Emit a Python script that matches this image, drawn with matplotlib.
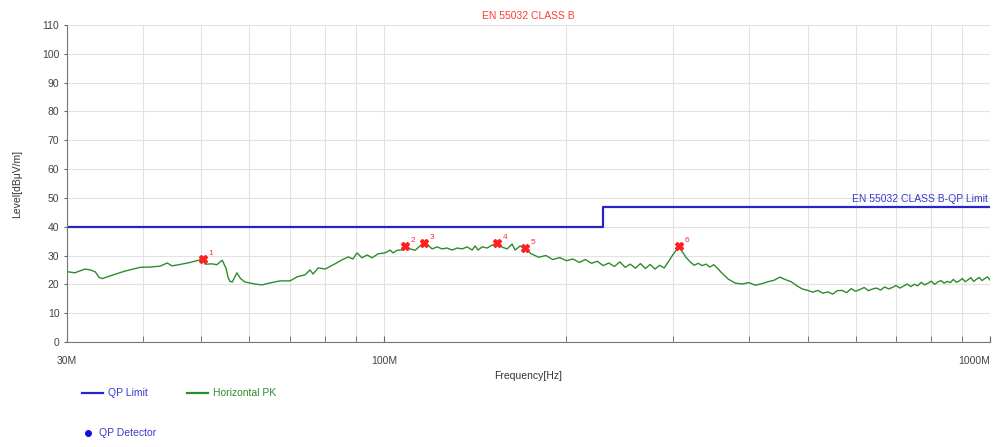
import matplotlib
matplotlib.use("Agg")
import matplotlib.pyplot as plt
from matplotlib.lines import Line2D
from matplotlib.ticker import FixedLocator, NullFormatter

plt.rcParams['font.family'] = ['Liberation Sans Narrow', 'Liberation Sans', 'DejaVu Sans']

# Measured peak trace (frequency in MHz, level in dBuV/m)
freq_mhz = [
    30.0, 30.9, 32.1, 32.8, 33.4, 33.9, 34.3, 35.3, 37.4, 39.6, 41.1, 42.7, 43.9, 44.7,
    46.1, 47.9, 49.7, 50.3, 50.7, 52.1, 53.0, 54.1, 54.9, 55.3, 55.7, 56.2, 57.2, 58.0,
    59.0, 61.3, 62.9, 64.9, 67.4, 70.0, 71.9, 74.1, 75.5, 76.4, 77.9, 80.0, 83.0, 85.3,
    87.3, 88.9, 90.3, 92.0, 93.8, 95.6, 97.8, 100.4, 102.4, 103.5, 105.1, 107.5, 108.4,
    110.4, 112.6, 114.7, 116.5, 118.3, 120.1, 122.4, 124.7, 127.1, 129.6, 132.1, 134.6,
    137.2, 139.8, 141.4, 143.0, 145.2, 148.0, 150.8, 153.7, 156.7, 159.7, 162.7, 164.6,
    167.7, 170.9,
    175, 180, 185, 190, 195, 200, 205, 210, 215, 220, 225, 230, 235, 240, 245, 250, 255,
    260, 265, 270, 275, 280, 285, 290, 295, 300, 305, 307, 310, 315, 320, 325, 330, 335,
    340, 345, 350, 355, 360,
    370, 380, 390, 400, 410, 420, 430, 440, 450, 460, 470, 480, 490, 500, 510, 520, 530,
    540, 550, 560, 570, 580, 590, 600, 610, 620, 630, 640, 650, 660, 670, 680, 690, 700,
    710, 720, 730, 740, 750, 760, 770, 780, 790, 800, 810, 820, 830, 840, 850, 860, 870,
    880, 890, 900, 910, 920, 930, 940, 950, 960, 970, 980, 990, 1000,
]
level_db = [
    24.4, 24.0, 25.3, 25.0, 24.3, 22.4, 22.0, 22.9, 24.6, 25.9, 26.0, 26.3, 27.4, 26.4,
    26.9, 27.6, 28.5, 28.9, 27.0, 27.1, 26.8, 28.4, 25.5, 22.5, 21.0, 20.8, 24.0, 22.0,
    20.8, 20.1, 19.8, 20.5, 21.2, 21.2, 22.6, 23.3, 25.0, 23.6, 25.7, 25.3, 27.1, 28.5,
    29.5, 28.8, 30.9, 29.2, 30.2, 29.2, 30.6, 30.9, 31.9, 30.9, 31.8, 32.0, 32.8,
    32.3, 31.8, 33.3, 34.0, 33.5, 32.3, 33.0, 32.3, 32.6, 31.9, 32.6, 32.3,
    33.0, 31.9, 33.3, 31.9, 33.0, 32.6, 33.6, 34.2, 32.9, 32.3, 34.0, 31.9,
    33.3, 32.4,
    30.6, 29.4, 30.0, 28.6, 29.3, 28.2, 28.8, 27.6, 28.6, 27.3, 28.0, 26.5, 27.4, 26.2,
    27.8, 25.9, 27.0, 25.6, 27.2, 25.5, 26.9, 25.3, 26.6, 25.7, 28.0, 30.4, 32.4, 33.0,
    31.6, 29.4, 27.8, 26.6, 27.3, 26.5, 27.0, 26.0, 26.8, 25.6, 24.2,
    21.8, 20.4, 20.1, 20.6, 19.7, 20.2, 20.9, 21.4, 22.5, 21.6, 20.9, 19.5, 18.4, 17.9,
    17.3, 17.9, 16.9, 17.4, 16.6, 17.8, 17.9, 17.1, 18.5, 17.6, 18.2, 18.9, 17.8, 18.4,
    18.7, 18.0, 19.1, 18.4, 18.9, 19.6, 18.7, 19.4, 20.1, 19.2, 20.0, 19.5, 20.7, 19.8,
    20.4, 21.1, 20.0, 20.8, 21.3, 20.4, 21.0, 20.6, 21.7, 20.7, 21.2, 22.0, 20.9, 21.6,
    22.3, 21.0, 21.8, 22.4, 21.3, 22.0, 22.6, 21.5,
]

# QP limit (EN 55032 class B)
limit_freq = [30, 230, 230, 1000]
limit_db = [40, 40, 47, 47]

# Marked peaks
peak_freq = [50.3, 108.4, 116.5, 153.7, 170.9, 307.0]
peak_db = [28.9, 33.3, 34.4, 34.4, 32.6, 33.3]
peak_labels = ['1', '2', '3', '4', '5', '6']

fig = plt.figure(figsize=(9.93, 4.47), dpi=100)
ax = fig.add_axes([0.0675, 0.235, 0.9295, 0.709])

ax.plot(freq_mhz, level_db, color='#2e8b2e', linewidth=1.0)
ax.plot(limit_freq, limit_db, color='#2626c8', linewidth=1.6)
ax.plot(peak_freq, peak_db, linestyle='none', marker='X', markersize=6,
        color='#ff2020', markeredgecolor='#ff2020')
for f, v, t in zip(peak_freq, peak_db, peak_labels):
    ax.annotate(t, (f, v), xytext=(4, 3), textcoords='offset points',
                color='#ff3030', fontsize=6)

ax.set_xscale('log')
ax.set_xlim(30, 1000)
ax.set_ylim(0, 110)
ax.set_yticks(range(0, 111, 10))

ax.xaxis.set_major_locator(FixedLocator([30, 100, 1000]))
ax.set_xticklabels(['30M', '100M', '1000M'])
ax.get_xticklabels()[2].set_horizontalalignment('right')
ax.xaxis.set_minor_locator(FixedLocator([40, 50, 60, 70, 80, 90, 200, 300, 400,
                                         500, 600, 700, 800, 900]))
ax.xaxis.set_minor_formatter(NullFormatter())

ax.grid(True, which='both', axis='x', color='#e2e2e2', linewidth=0.8)
ax.grid(True, which='major', axis='y', color='#e2e2e2', linewidth=0.8)
ax.set_axisbelow(True)

ax.tick_params(axis='x', which='both', direction='in', length=4, pad=10,
               labelsize=7.5, labelcolor='#444444', color='#666666')
ax.tick_params(axis='y', direction='out', length=2, labelsize=7.5,
               labelcolor='#444444', color='#666666')
for s in ['top', 'right']:
    ax.spines[s].set_visible(False)
for s in ['left', 'bottom']:
    ax.spines[s].set_color('#777777')

ax.set_title('EN 55032 CLASS B', color='#ff3b3b', fontsize=7.5, pad=4)
ax.text(0.998, 47.8, 'EN 55032 CLASS B-QP Limit', color='#3a3ad0', fontsize=7.5,
        ha='right', va='bottom', transform=ax.get_yaxis_transform())
ax.set_xlabel('Frequency[Hz]', fontsize=7.5, color='#333333', labelpad=4)
ax.set_ylabel('Level[dBμV/m]', fontsize=7.5, color='#333333', labelpad=14)

# Legend below the plot
fig.add_artist(Line2D([82 / 993, 103 / 993], [1 - 393 / 447] * 2, color='#2626c8', linewidth=1.6))
fig.text(108 / 993, 1 - 393 / 447, 'QP Limit', color='#3a3ad0', fontsize=7.5, va='center')
fig.add_artist(Line2D([187 / 993, 208 / 993], [1 - 393 / 447] * 2, color='#2e8b2e', linewidth=1.6))
fig.text(213 / 993, 1 - 393 / 447, 'Horizontal PK', color='#2e8b2e', fontsize=7.5, va='center')
fig.add_artist(Line2D([88 / 993], [1 - 433 / 447], marker='o', markersize=4,
                      color='#1010e0', linestyle='none'))
fig.text(99 / 993, 1 - 433 / 447, 'QP Detector', color='#3a3ad0', fontsize=7.5, va='center')

fig.savefig('out.png', dpi=100)
